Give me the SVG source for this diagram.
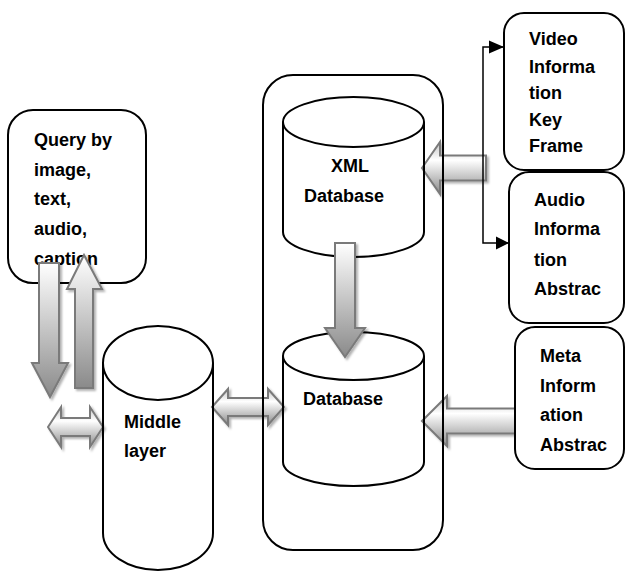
<svg xmlns="http://www.w3.org/2000/svg" width="627" height="572" viewBox="0 0 627 572">
<defs>
<style>
.box{fill:#fff;stroke:#000;stroke-width:2}
.out{fill:none;stroke:#000;stroke-width:2}
.t{font-family:"Liberation Sans",Arial,sans-serif;font-weight:bold;font-size:18px;fill:#000}
.av{fill:url(#gv);stroke:#7a7a7a;stroke-width:2;filter:url(#sh)}
.ah{fill:url(#gh);stroke:#7a7a7a;stroke-width:2;filter:url(#sh)}
.ln{fill:none;stroke:#000;stroke-width:1.5}
</style>
<linearGradient id="gv" x1="0" y1="0" x2="0" y2="1">
<stop offset="0" stop-color="#ffffff"/>
<stop offset="1" stop-color="#8a8a8a"/>
</linearGradient>
<linearGradient id="gh" x1="0" y1="0" x2="0" y2="1">
<stop offset="0" stop-color="#c4c4c4"/>
<stop offset="0.35" stop-color="#ffffff"/>
<stop offset="1" stop-color="#8a8a8a"/>
</linearGradient>
<filter id="sh" x="-20%" y="-20%" width="150%" height="150%">
<feDropShadow dx="2" dy="2" stdDeviation="1" flood-color="#000" flood-opacity="0.3"/>
</filter>
<marker id="ar" viewBox="0 0 10 10" refX="10" refY="5" markerWidth="14" markerHeight="13" markerUnits="userSpaceOnUse" orient="auto" overflow="visible">
<path d="M0,0 L10,5 L0,10 Z" fill="#000"/>
</marker>
</defs>

<g id="query">
<rect class="box" x="8" y="110" width="138" height="173" rx="25"/>
<text class="t" x="34" y="146">Query by</text>
<text class="t" x="34" y="176">image,</text>
<text class="t" x="34" y="205">text,</text>
<text class="t" x="34" y="235">audio,</text>
<text class="t" x="34" y="265">caption</text>
</g>

<g id="connectors">
<path class="av" d="M39,263 H59 V363 H68 L50,397 L32,363 H39 Z"/>
<path class="av" d="M75,388 V289 H67 L84,255 L102,289 H93 V388 Z"/>
<path class="ah" d="M48,427 L61,407 V418 H90 V407 L103,427 L90,447 V436 H61 V447 Z"/>
<path class="ah" d="M212,407 L228,389 V398 H268 V389 L284,407 L268,425 V416 H228 V425 Z"/>
<path class="ah" d="M422,168 L440,142 V155.5 H486 V180.5 H440 V194 Z"/>
<path class="ah" d="M422,421 L447,396 V408.5 H517 V433.5 H447 V446 Z"/>
<path class="ln" d="M504,47 H483 V243 H509" marker-end="url(#ar)"/>
<path d="M504,47 L489,40.5 L489,53.5 Z" fill="#000"/>
</g>

<g id="middle">
<path class="out" d="M103,363 V533 A55,37 0 0 0 213,533 V363"/>
<ellipse class="out" cx="158" cy="363" rx="55" ry="37"/>
<text class="t" x="124" y="428">Middle</text>
<text class="t" x="124" y="457">layer</text>
</g>

<g id="container">
<rect class="out" x="263" y="75" width="180" height="475" rx="30"/>
</g>

<g id="xmldb">
<path class="out" d="M283,122 V232 A70.5,25 0 0 0 424,232 V122"/>
<ellipse class="out" cx="353.5" cy="122" rx="70.5" ry="25"/>
<text class="t" x="331" y="172">XML</text>
<text class="t" x="304" y="202">Database</text>
</g>

<g id="db">
<path class="out" d="M283,356 V462 A70.5,24 0 0 0 424,462 V356"/>
<ellipse class="out" cx="353.5" cy="356" rx="70.5" ry="24"/>
<text class="t" x="303" y="405">Database</text>
</g>

<g id="connector-xml-db">
<path class="av" d="M335,243 H355 V328 H365 L345,357 L325,328 H335 Z"/>
</g>

<g id="video">
<rect class="box" x="504" y="13" width="120" height="157" rx="20"/>
<text class="t" x="529" y="45">Video</text>
<text class="t" x="529" y="73">Informa</text>
<text class="t" x="529" y="99">tion</text>
<text class="t" x="529" y="126">Key</text>
<text class="t" x="529" y="152">Frame</text>
</g>

<g id="audio">
<rect class="box" x="509" y="172" width="115" height="151" rx="20"/>
<text class="t" x="534" y="206">Audio</text>
<text class="t" x="534" y="235">Informa</text>
<text class="t" x="534" y="266">tion</text>
<text class="t" x="534" y="295">Abstrac</text>
</g>

<g id="meta">
<rect class="box" x="515" y="327" width="109" height="142" rx="20"/>
<text class="t" x="540" y="362">Meta</text>
<text class="t" x="540" y="392">Inform</text>
<text class="t" x="540" y="421">ation</text>
<text class="t" x="540" y="451">Abstrac</text>
</g>
</svg>
